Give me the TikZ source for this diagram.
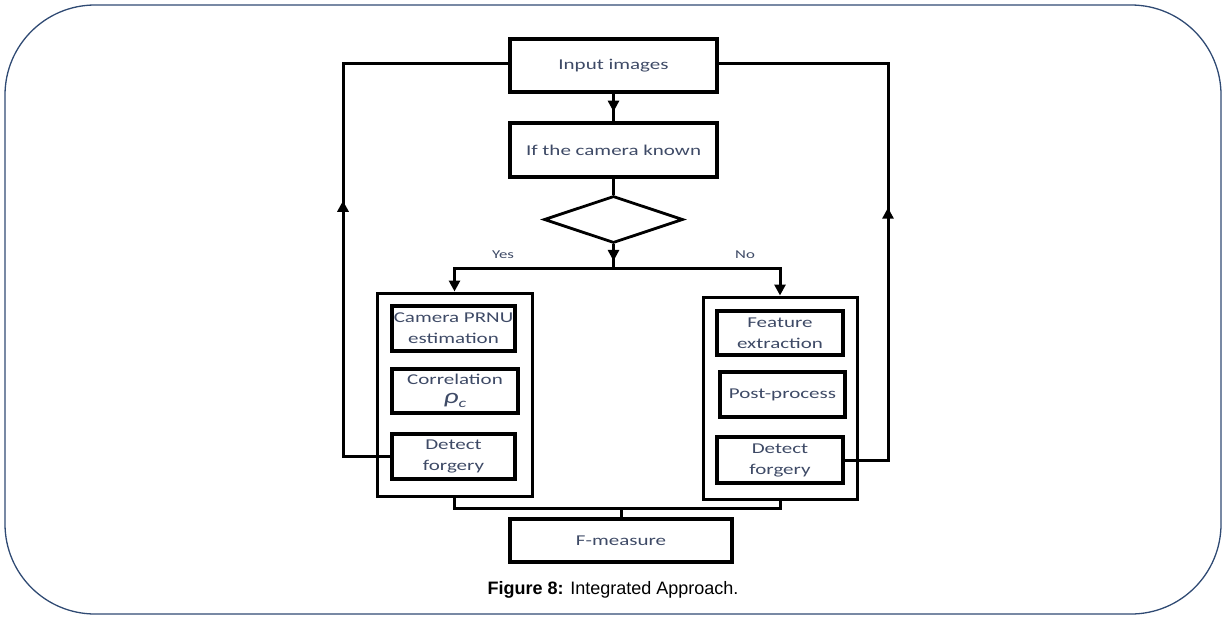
\documentclass[tikz,border=0pt]{standalone}
\usepackage{fontspec}
\setmainfont{Liberation Sans}
\newfontfamily\boxfont[FakeStretch=1.4]{Carlito}
\usetikzlibrary{arrows.meta,shapes.geometric,decorations.markings}
\definecolor{framecol}{HTML}{2F4A73}
\definecolor{textcol}{HTML}{3E4A66}
\tikzset{
  blk/.style args={#1/#2}{% #1=width, #2=height
    draw, line width=3.2pt, minimum width=#1, minimum height=#2,
    inner sep=1pt, align=center, text=textcol,
    font=\boxfont\fontsize{15}{21}\selectfont},
  grp/.style args={#1/#2}{draw, line width=3pt, minimum width=#1, minimum height=#2},
  conn/.style={line width=3pt},
  tip/.style={-{Triangle[length=11pt,width=11pt]}},
  midarrow/.style={postaction={decorate},
    decoration={markings, mark=at position #1 with {\arrow{Triangle[length=11pt,width=11pt]}}}},
  lbl/.style={text=textcol, font=\boxfont\fontsize{12}{14}\selectfont}
}

\begin{document}
\begin{tikzpicture}[x=1pt, y=-1pt]
  \useasboundingbox (0,0) rectangle (1223,616);
  \draw[framecol, line width=1.3pt, rounded corners=90pt] (5,5) rectangle (1221,614);

  \node[blk={207pt/53pt}] (input) at (613.5,65.5) {Input images};
  \node[blk={207pt/54pt}] (ifcam) at (613.5,150) {If the camera known};
  \node[draw, diamond, line width=2.8pt, aspect=2.96, minimum width=139pt,
        minimum height=47pt, inner sep=0pt] (dec) at (613.5,219.5) {};

  % left branch
  \node[grp={155pt/203pt}] (lout) at (454.5,394.5) {};
  \node[blk={123pt/45pt}] (lcam) at (453.5,328.5) {Camera PRNU\\estimation};
  \node[blk={126pt/44pt}, font=\boxfont\fontsize{15}{17}\selectfont] (lcor) at (455,391)
    {Correlation\\[2pt]{\fontsize{21}{21}\selectfont\itshape ρ}\raisebox{-4pt}{\fontsize{13}{13}\selectfont\itshape c}};
  \node[blk={123pt/45pt}] (ldet) at (453.5,456.5) {Detect\\forgery};

  % right branch
  \node[grp={154pt/202pt}] (rout) at (780,398) {};
  \node[blk={126pt/44pt}] (rfeat) at (780,333) {Feature\\extraction};
  \node[blk={125pt/45pt}] (rpost) at (782.5,394.5) {Post-process};
  \node[blk={126pt/46pt}] (rdet) at (780,460) {Detect\\forgery};

  \node[blk={222pt/43pt}] (fm) at (621,540.5) {F-measure};

  \coordinate (split) at (613.5,268);
  \coordinate (merge) at (621,508);
  \coordinate (lfb) at (343,63);
  \coordinate (rfb) at (888,63);

  \draw[conn, midarrow=0.65] (input) -- (ifcam);
  \draw[conn] (ifcam) -- (dec);
  \draw[conn, midarrow=0.7] (dec.south) -- (split);
  \draw[conn, tip] (split) -| (lout.north);
  \draw[conn, tip] (split) -| (rout.north);
  \node[lbl] (yes) at (503,255) {Yes};
  \node[lbl] (no) at (745,255) {No};

  % feedback loops
  \draw[conn, midarrow=0.5] (ldet.west) -| (lfb) -- (input.west |- lfb);
  \draw[conn, midarrow=0.485] (rdet.east) -| (rfb) -- (input.east |- rfb);

  \draw[conn] (lout.south) |- (merge) -| (rout.south);
  \draw[conn] (merge) -- (fm);

  \node (cap) at (613,590) {\fontsize{18}{20}\selectfont\textbf{Figure 8:} Integrated Approach.};
\end{tikzpicture}
\end{document}
